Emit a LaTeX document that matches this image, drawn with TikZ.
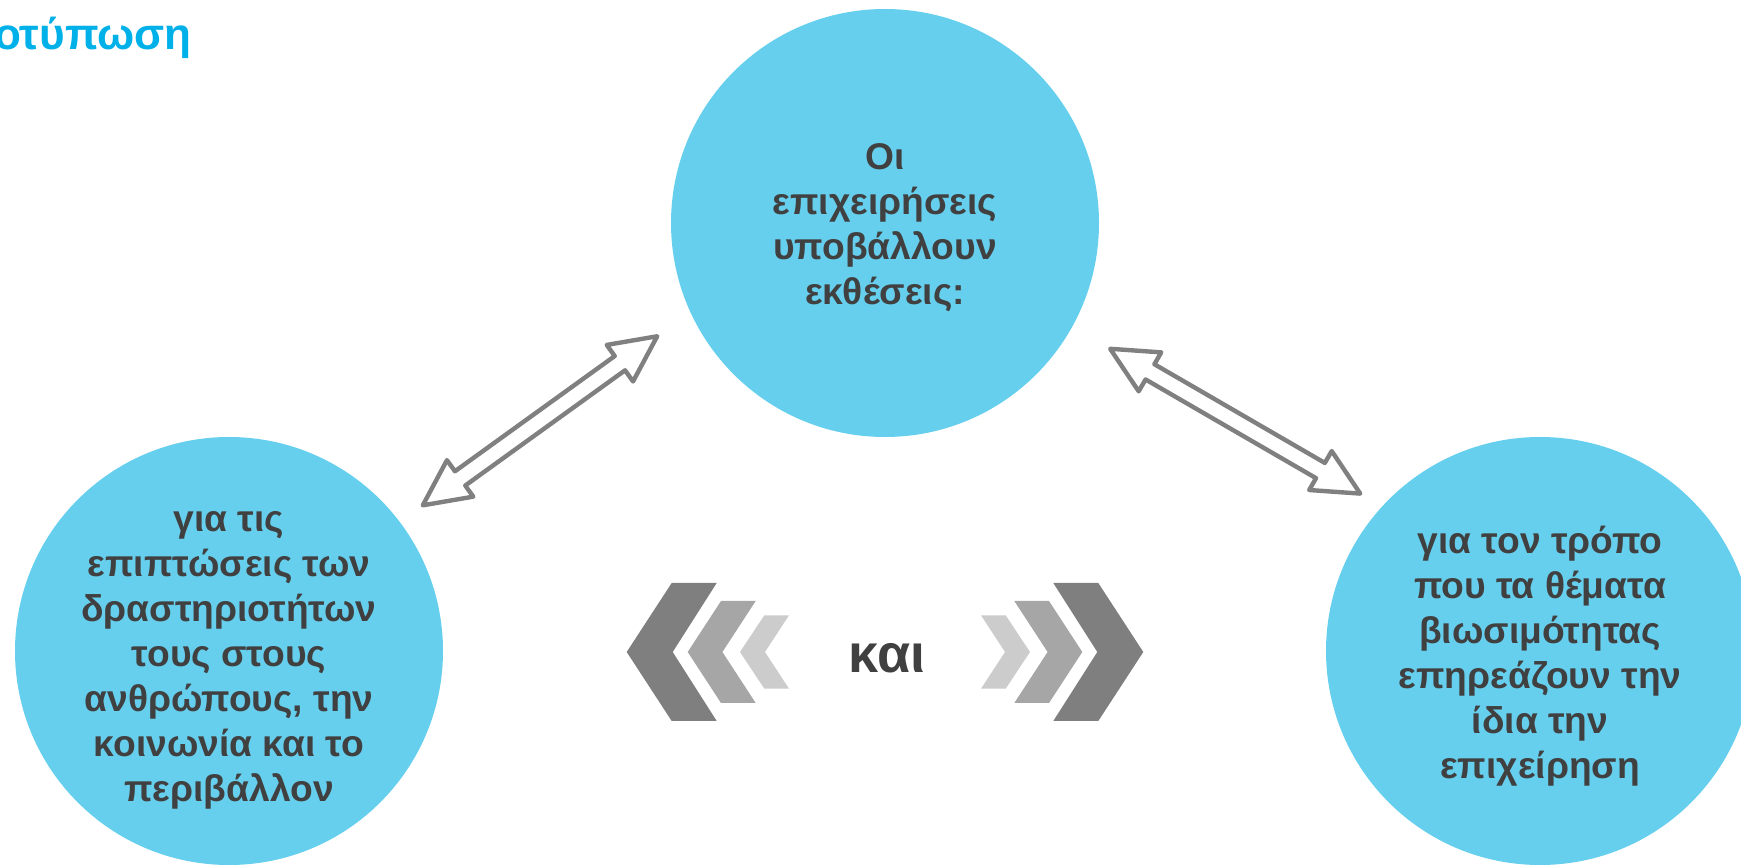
\documentclass[tikz,border=0pt]{standalone}
\usepackage{fontspec}
\setmainfont{Liberation Sans}
\definecolor{bubblue}{RGB}{103,207,238}
\definecolor{txtgray}{RGB}{64,64,64}
\definecolor{titleblue}{RGB}{0,176,232}
\definecolor{arrgray}{RGB}{128,128,128}
\definecolor{chevdark}{RGB}{127,127,127}
\definecolor{chevmid}{RGB}{166,166,166}
\definecolor{chevlight}{RGB}{204,204,204}
\tikzset{
  bubble/.style={circle, fill=bubblue, draw=none, minimum size=214pt, inner sep=0pt},
  bubtext/.style={align=center, text=txtgray, inner sep=0pt, font=\bfseries\fontsize{18.6}{22.5}\selectfont},
  arrowline/.style={draw=arrgray, line width=2.2pt, fill=white, line join=round},
  dblarrow/.pic={
    \path[arrowline] (-144.5,0) -- (-98.5,22.5) -- (-98.5,8.8) -- (98.5,8.8) -- (98.5,22.5) -- (144.5,0)
      -- (98.5,-22.5) -- (98.5,-8.8) -- (-98.5,-8.8) -- (-98.5,-22.5) -- cycle;
  }
}
\begin{document}
\begin{tikzpicture}[x=0.5pt, y=-0.5pt]
\useasboundingbox (0,0) rectangle (1741,865);
% title
\node[anchor=base east, inner sep=0pt, text=titleblue, font=\bfseries\fontsize{22}{26}\selectfont] (title) at (192,49.3) {Αποτύπωση};
% circles
\node[bubble] (top) at (885,223) {};
\node[bubble] (left) at (229,651) {};
\node[bubble] (right) at (1540,651) {};
\node[bubtext] (toptxt) at (885,228) {Οι\\επιχειρήσεις\\υποβάλλουν\\εκθέσεις:};
\node[bubtext] (lefttxt) at (229,660) {για τις\\επιπτώσεις των\\δραστηριοτήτων\\τους στους\\ανθρώπους, την\\κοινωνία και το\\περιβάλλον};
\node[bubtext] (righttxt) at (1540,656) {για τον τρόπο\\που τα θέματα\\βιωσιμότητας\\επηρεάζουν την\\ίδια την\\επιχείρηση};
% double arrows
\pic (arrL) [rotate=35.8] at (540,420.8) {dblarrow};
\pic (arrR) [rotate=-30.07] at (1235.2,421.2) {dblarrow};
% chevrons left
\fill[chevdark] (716.7,583) -- (672.7,652) -- (716.7,721) -- (671.7,721) -- (626.7,652) -- (671.7,583) -- cycle;
\fill[chevmid] (755.7,601) -- (722.4,652) -- (755.7,703) -- (721,703) -- (687.7,652) -- (721,601) -- cycle;
\fill[chevlight] (789,615.3) -- (765,652) -- (789,688.7) -- (764.3,688.7) -- (740,652) -- (764.3,615.3) -- cycle;
% chevrons right
\fill[chevdark] (1053.3,583) -- (1097.3,652) -- (1053.3,721) -- (1098.3,721) -- (1143.3,652) -- (1098.3,583) -- cycle;
\fill[chevmid] (1014.3,601) -- (1047.6,652) -- (1014.3,703) -- (1049,703) -- (1082.3,652) -- (1049,601) -- cycle;
\fill[chevlight] (981,615.3) -- (1005,652) -- (981,688.7) -- (1005.7,688.7) -- (1030,652) -- (1005.7,615.3) -- cycle;
% middle word
\node[inner sep=0pt, text=txtgray, font=\bfseries\fontsize{27}{32}\selectfont] (kai) at (887.2,657.8) {και};
\end{tikzpicture}
\end{document}
